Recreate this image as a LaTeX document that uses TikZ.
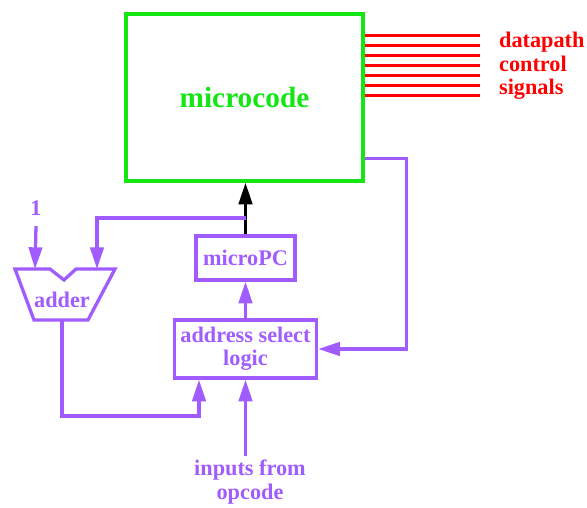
\documentclass[tikz,border=0pt]{standalone}
\usepackage{fontspec}
\setmainfont{Liberation Serif}
\usetikzlibrary{arrows.meta,positioning,calc}
\definecolor{ucgreen}{RGB}{20,230,20}
\definecolor{ucpurple}{RGB}{160,92,255}
\definecolor{ucred}{RGB}{255,0,0}
\tikzset{
  unit/.style={draw=ucpurple,line width=2.8pt,text=ucpurple,font=\fontsize{19}{20}\selectfont\bfseries,align=center},
  wire/.style={draw=ucpurple,line width=2.8pt},
  tip/.style={-{Triangle[length=6.5mm,width=4mm]}},
  sig/.style={draw=ucred,line width=3pt},
  lbl/.style={font=\fontsize{19}{20}\selectfont\bfseries,align=center}
}

\begin{document}
\begin{tikzpicture}[x=0.03cm,y=-0.03cm]
    \useasboundingbox (0,0) rectangle (587,508);
    % control store
    \node[draw=ucgreen,line width=2.8pt,text=ucgreen,font=\fontsize{25}{29}\selectfont\bfseries,
          minimum width=7.11cm,minimum height=5.01cm] (microcode) at (244.5,97.5) {microcode};
    \foreach \k in {0,...,6}
      \draw[sig] ($(microcode.north east)+(0,23+10*\k)$) -- ++(115,0);
    \node[lbl,text=ucred,anchor=west,align=left] (signals) at (495,66) {datapath\\control\\signals};

    % sequencer
    \node[unit,minimum width=2.97cm,minimum height=1.32cm] (microPC) at (245.5,258) {microPC};
    \node[unit,minimum width=4.26cm,minimum height=1.74cm] (addrsel) at (245.5,349) {address select\\logic};
    \node[lbl,text=ucpurple] (opcode) at (250,482) {inputs from\\opcode};
    \node[lbl,text=ucpurple] (one) at (36,208) {1};

    % adder
    \draw[wire,line join=miter] (15,269) -- (50,269) -- (64,280) -- (76,269) -- (115,269)
      -- (88,320) -- (34,320) -- cycle;
    \node[lbl,text=ucpurple] (adder) at (62,300) {adder};
    \coordinate (adderA) at (35,269);
    \coordinate (adderB) at (97,269);
    \coordinate (adderOut) at (62,320);
    \coordinate (tap) at (245.5,218);

    \draw[wire,tip] ([yshift=7.2mm]microcode.south east) -- ++(42,0) |- (addrsel.east);
    \draw[line width=3pt,tip] (microPC.north) -- (microPC.north |- microcode.south);
    \draw[wire,tip] (tap) -| (adderB);
    \draw[wire,tip] ([yshift=-2mm]one.south) -- (adderA);
    \draw[wire,tip] (addrsel.north) -- (microPC.south);
    \draw[wire,tip] (adderOut) -- ++(0,96) -| ([xshift=-1.395cm]addrsel.south);
    \draw[wire,tip] (addrsel.south |- opcode.north) -- (addrsel.south);
\end{tikzpicture}
\end{document}
